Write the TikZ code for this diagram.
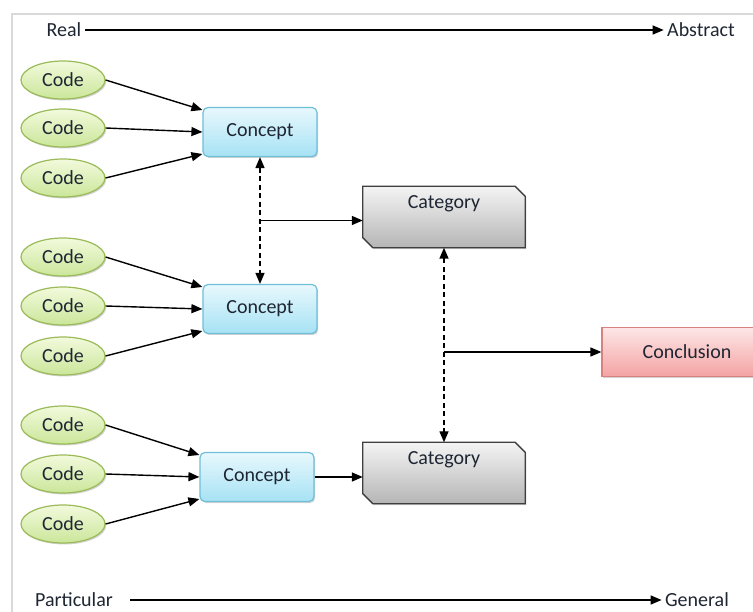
\documentclass[tikz,border=0pt]{standalone}
\usepackage{fontspec}
\setmainfont{Carlito}
\usetikzlibrary{shadows,shapes.geometric,arrows.meta}

\definecolor{codeline}{HTML}{9BBB59}
\definecolor{codetop}{HTML}{F2FADC}
\definecolor{codebot}{HTML}{CBE69A}
\definecolor{conceptline}{HTML}{6FBFD8}
\definecolor{concepttop}{HTML}{E8F8FD}
\definecolor{conceptbot}{HTML}{A6E2F4}
\definecolor{catline}{HTML}{3F3F3F}
\definecolor{cattop}{HTML}{F4F4F4}
\definecolor{catbot}{HTML}{B5B5B5}
\definecolor{conline}{HTML}{D98080}
\definecolor{contop}{HTML}{FDE6E6}
\definecolor{conbot}{HTML}{F4A3A3}
\definecolor{txt}{HTML}{1E2633}

\begin{document}
\begin{tikzpicture}[x=1pt,y=-1pt,
  font=\fontsize{20}{23}\selectfont, text=txt,
  shade/.style={drop shadow={opacity=0.35,shadow xshift=1.2pt,shadow yshift=-1.5pt}},
  code/.style={ellipse, draw=codeline, line width=1.2pt, top color=codetop, bottom color=codebot,
    minimum width=84pt, minimum height=38pt, inner sep=0pt, shade},
  concept/.style={rectangle, rounded corners=5pt, draw=conceptline, line width=1.2pt,
    top color=concepttop, bottom color=conceptbot, minimum width=114pt, minimum height=49pt, shade},
  category/.style={rectangle, minimum width=162pt, minimum height=61pt, inner sep=0pt},
  catbox/.style={draw=catline, line width=1.3pt, top color=cattop, bottom color=catbot, shade},
  conclusion/.style={rectangle, draw=conline, line width=1.2pt, top color=contop, bottom color=conbot,
    minimum width=170pt, minimum height=49pt, shade},
  link/.style={line width=1.4pt, -{Triangle[length=11pt,width=9pt]}},
  dlink/.style={line width=1.4pt, dash pattern=on 5pt off 3.5pt,
    {Triangle[length=11pt,width=9pt]}-{Triangle[length=11pt,width=9pt]}}
]
  \useasboundingbox (0,0) rectangle (753,612);
  \clip (0,0) rectangle (753,612);

  % page frame
  \draw[black!15, line width=1.5pt] (12,612) -- (12,14) -- (753,14);

  % axes
  \node (real) at (64,30) {Real};
  \node (abstract) at (701,30) {Abstract};
  \draw[link] (real) -- (abstract);
  \node (particular) at (74,600) {Particular};
  \node (general) at (697,600) {General};
  \draw[link] ([xshift=14pt]particular.east) -- (general);

  % codes
  \foreach \y/\n in {80/1,128/2,178/3,257/4,306/5,356/6,425/7,474/8,524/9}
    \node[code] (code\n) at (63,\y) {Code};

  % concepts
  \node[concept] (concept1) at (260,132) {Concept};
  \node[concept] (concept2) at (260,309) {Concept};
  \node[concept] (concept3) at (257,477) {Concept};

  % categories, corners cut at top right and bottom left
  \node[category] (cat1) at (444,217) {};
  \node[category] (cat2) at (444,473) {};
  \foreach \c in {cat1,cat2} {
    \path[catbox] (\c.north west) -- ([xshift=-10pt]\c.north east) -- ([yshift=-10pt]\c.north east)
      -- (\c.south east) -- ([xshift=10pt]\c.south west) -- ([yshift=10pt]\c.south west) -- cycle;
    \node[anchor=north] at ([yshift=-6pt]\c.north) {Category};
  }

  % conclusion
  \node[conclusion] (concl) at (687,352) {Conclusion};

  % codes to concepts
  \foreach \c/\a/\b/\d in {1/1/2/3,2/4/5/6,3/7/8/9} {
    \draw[link] (code\a.east) -- ([yshift=22pt]concept\c.west);
    \draw[link] (code\b.east) -- (concept\c.west);
    \draw[link] (code\d.east) -- ([yshift=-22pt]concept\c.west);
  }

  % concepts to categories
  \draw[dlink] (concept1) -- (concept2) coordinate[midway] (m1);
  \draw[link] (m1) -- (m1 -| cat1.west);
  \draw[link] (concept3) -- (concept3 -| cat2.west);

  % categories to conclusion
  \draw[dlink] (cat1) -- (cat2) coordinate[pos=0.5] (m2);
  \draw[link] (m2 |- concl) -- (concl);
\end{tikzpicture}
\end{document}
